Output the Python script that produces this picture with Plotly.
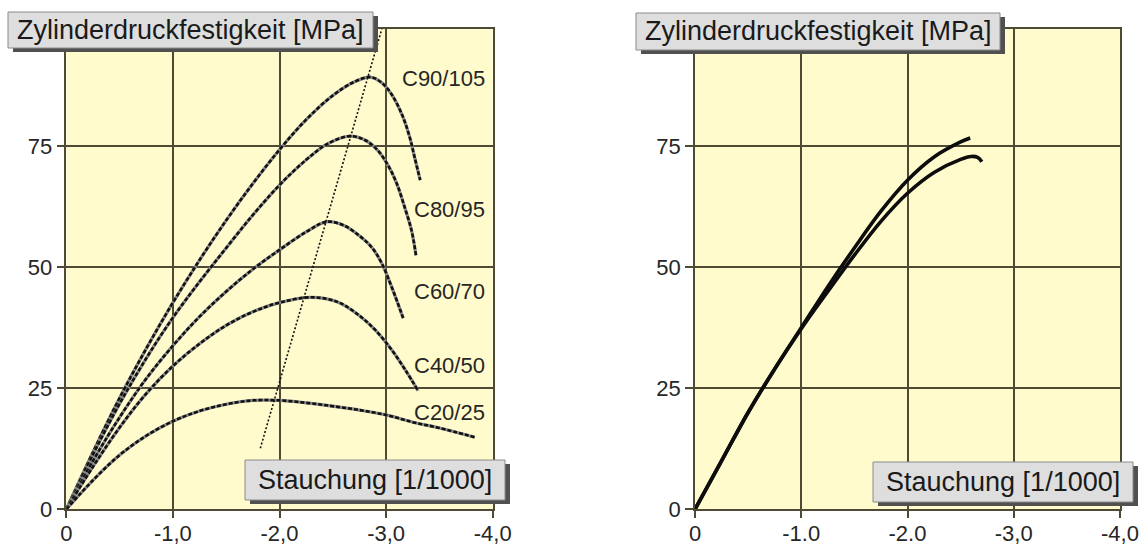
import plotly.graph_objects as go

# ---- Left panel: stress-strain curves by concrete class (strain in 1/1000, negative = compression)
c90_x = [0, -0.25, -0.5, -0.75, -1.0, -1.25, -1.5, -1.75, -2.0, -2.25, -2.5, -2.7, -2.85, -2.95, -3.05, -3.15, -3.22, -3.27, -3.32]
c90_y = [0, 11.8, 23.0, 33.2, 42.7, 51.5, 59.7, 67.3, 74.3, 80.5, 85.5, 88.3, 89.3, 88.3, 85.8, 81.5, 77.0, 72.5, 68.0]

c80_x = [0, -0.25, -0.5, -0.75, -1.0, -1.25, -1.5, -1.75, -2.0, -2.25, -2.45, -2.66, -2.8, -2.92, -3.02, -3.1, -3.18, -3.24, -3.28]
c80_y = [0, 11.3, 21.8, 31.2, 39.6, 47.0, 54.0, 60.8, 67.0, 72.2, 75.5, 77.1, 76.3, 74.2, 71.0, 67.3, 62.0, 57.5, 52.5]

c60_x = [0, -0.25, -0.5, -0.75, -1.0, -1.25, -1.5, -1.75, -2.0, -2.25, -2.44, -2.6, -2.75, -2.87, -2.96, -3.06, -3.16]
c60_y = [0, 10.0, 19.0, 27.0, 33.8, 39.8, 45.0, 49.6, 53.6, 57.3, 59.4, 58.7, 56.5, 54.0, 50.8, 45.5, 39.5]

c40_x = [0, -0.25, -0.5, -0.75, -1.0, -1.25, -1.5, -1.75, -2.0, -2.3, -2.55, -2.75, -2.9, -3.05, -3.18, -3.3]
c40_y = [0, 8.8, 16.9, 23.9, 29.6, 34.2, 38.0, 40.8, 42.7, 43.8, 42.8, 40.0, 37.0, 33.0, 28.8, 24.5]

c20_x = [0, -0.25, -0.5, -0.75, -1.0, -1.25, -1.5, -1.75, -2.0, -2.25, -2.5, -2.75, -3.0, -3.25, -3.5, -3.83]
c20_y = [0, 6.0, 11.2, 15.2, 18.2, 20.3, 21.7, 22.5, 22.5, 22.0, 21.3, 20.5, 19.5, 18.0, 16.8, 14.9]

peak_line_x = [-1.82, -2.97]
peak_line_y = [12.6, 100.0]

class_labels = ["C90/105", "C80/95", "C60/70", "C40/50", "C20/25"]
class_label_y = [89.1, 61.9, 44.9, 29.8, 19.9]
class_label_x = -3.95

# ---- Right panel: two measured curves
meas_a_x = [0, -0.25, -0.5, -0.75, -1.0, -1.25, -1.5, -1.75, -2.0, -2.25, -2.5, -2.59]
meas_a_y = [0, 10.0, 20.0, 29.0, 37.5, 46.0, 54.0, 61.6, 68.0, 72.8, 75.9, 76.7]

meas_b_x = [0, -0.25, -0.5, -0.75, -1.0, -1.25, -1.5, -1.75, -2.0, -2.25, -2.5, -2.6, -2.66, -2.70]
meas_b_y = [0, 10.0, 20.0, 29.0, 37.3, 45.0, 52.5, 59.5, 65.3, 69.6, 72.3, 72.9, 72.7, 71.8]

# ---- Axis ticks
x_tickvals = [0, -1, -2, -3, -4]
x_ticktext_left = ["0", "-1,0", "-2,0", "-3,0", "-4,0"]
x_ticktext_right = ["0", "-1.0", "-2.0", "-3,0", "-4,0"]
y_tickvals = [0, 25, 50, 75]
y_ticktext = ["0", "25", "50", "75"]

y_title = "Zylinderdruckfestigkeit [MPa]"
x_title = "Stauchung [1/1000]"

W, H = 1139, 547
FONT = "Liberation Sans, Arial, sans-serif"
GRID = "#4f4a33"
BG = "#fffbcc"
TXT = "#262626"


def px(x):
    return x / W


def py(y):
    return 1 - y / H


fig = go.Figure()

left_curves = [(c90_x, c90_y), (c80_x, c80_y), (c60_x, c60_y), (c40_x, c40_y), (c20_x, c20_y)]
for cx, cy in left_curves:
    fig.add_trace(go.Scatter(x=cx, y=cy, mode="lines", line=dict(color="#8a8a8a", width=3.2, shape="spline", smoothing=1.0),
                             xaxis="x", yaxis="y", showlegend=False, hoverinfo="skip"))
    fig.add_trace(go.Scatter(x=cx, y=cy, mode="lines",
                             line=dict(color="#111111", width=2.6, dash="4px,2px", shape="spline", smoothing=1.0),
                             xaxis="x", yaxis="y", showlegend=False))

fig.add_trace(go.Scatter(x=peak_line_x, y=peak_line_y, mode="lines",
                         line=dict(color="#111111", width=1.6, dash="2px,2px"),
                         xaxis="x", yaxis="y", showlegend=False))

for mx, my in [(meas_a_x, meas_a_y), (meas_b_x, meas_b_y)]:
    fig.add_trace(go.Scatter(x=mx, y=my, mode="lines",
                             line=dict(color="#0d0d0d", width=3.6, shape="spline", smoothing=1.0),
                             xaxis="x2", yaxis="y2", showlegend=False))

for lab, ly in zip(class_labels, class_label_y):
    fig.add_annotation(x=class_label_x, y=ly, xref="x", yref="y", text=lab, showarrow=False,
                       xanchor="right", yanchor="middle", font=dict(family=FONT, size=22, color=TXT))

x_dom_left = [66.3 / W, 492.7 / W]
x_dom_right = [695.0 / W, 1120.0 / W]
y_dom = [(H - 509.3) / H, (H - 29.3) / H]
y_top = (509.3 - 29.3) / 4.84

xaxis_common = dict(range=[0, -4], tickvals=x_tickvals, showgrid=True, gridcolor=GRID, gridwidth=1.5,
                    zeroline=False, showline=True, linecolor=GRID, linewidth=1.5, mirror=True,
                    ticks="outside", ticklen=7, tickwidth=1.5, tickcolor=GRID, automargin=False,
                    ticklabelstandoff=-3,
                    tickfont=dict(family=FONT, size=22, color=TXT), fixedrange=True)
yaxis_common = dict(range=[0, y_top], tickvals=y_tickvals, ticktext=y_ticktext, showgrid=True,
                    gridcolor=GRID, gridwidth=1.5, zeroline=False, showline=True, linecolor=GRID,
                    linewidth=1.5, mirror=True, ticks="outside", ticklen=8, tickwidth=1.5, tickcolor=GRID,
                    automargin=False, tickfont=dict(family=FONT, size=22, color=TXT), fixedrange=True)

fig.update_layout(
    width=W, height=H, margin=dict(l=0, r=0, t=0, b=0, autoexpand=False),
    paper_bgcolor="white", plot_bgcolor=BG,
    xaxis=dict(domain=x_dom_left, anchor="y", ticktext=x_ticktext_left, **xaxis_common),
    yaxis=dict(domain=y_dom, anchor="x", **yaxis_common),
    xaxis2=dict(domain=x_dom_right, anchor="y2", ticktext=x_ticktext_right, **xaxis_common),
    yaxis2=dict(domain=y_dom, anchor="x2", **yaxis_common),
    showlegend=False,
)

# Title boxes with drop shadow (pixel positions on the page)
boxes = [
    (8, 12, 373, 48, y_title),
    (636, 13, 1000, 50, y_title),
    (245, 460, 505, 500, x_title),
    (873, 462, 1133, 502, x_title),
]
shapes = []
for x0, y0, x1, y1, label in boxes:
    shapes.append(dict(type="rect", xref="paper", yref="paper", x0=px(x0 + 5), x1=px(x1 + 5),
                       y0=py(y1 + 4), y1=py(y0 + 4), fillcolor="#505050", line=dict(width=0), layer="above"))
    shapes.append(dict(type="rect", xref="paper", yref="paper", x0=px(x0), x1=px(x1),
                       y0=py(y1), y1=py(y0), fillcolor="#dedede", line=dict(color="#8a8a8a", width=1),
                       layer="above"))
    fig.add_annotation(x=px((x0 + x1) / 2), y=py((y0 + y1) / 2), xref="paper", yref="paper", text=label,
                       showarrow=False, xanchor="center", yanchor="middle",
                       font=dict(family=FONT, size=27, color="#1a1a1a"))
fig.update_layout(shapes=shapes)

fig.write_html("out.html")
